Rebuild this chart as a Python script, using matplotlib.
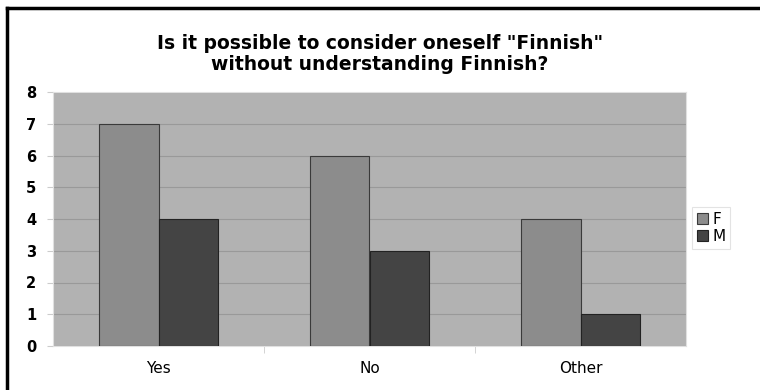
import matplotlib.pyplot as plt
import numpy as np
from matplotlib.lines import Line2D

categories = ["Yes", "No", "Other"]
female = [7, 6, 4]
male = [4, 3, 1]
series_names = ["F", "M"]

# the source picture is stretched sideways, DejaVu is wider than Arial
plt.rcParams['font.family'] = ['DejaVu Sans']

fig = plt.figure(figsize=(7.6, 3.9), dpi=100)
ax = fig.add_axes([53 / 760, 44 / 390, 633 / 760, 254 / 390])
ax.set_facecolor("#b2b2b2")

x = np.arange(len(categories))
w = 0.28
ax.bar(x - w / 2, female, w, color="#8c8c8c", edgecolor="#3a3a3a", linewidth=0.8,
       label=series_names[0], zorder=3)
ax.bar(x + w / 2, male, w, color="#444444", edgecolor="#222222", linewidth=0.8,
       label=series_names[1], zorder=3)

ax.set_xlim(-0.5, len(categories) - 0.5)
ax.set_ylim(0, 8)
ax.set_yticks(range(0, 9))
ax.yaxis.grid(True, color="#999999", linewidth=0.8, zorder=1)
ax.set_xticks(x)
ax.set_xticklabels(categories, fontsize=11)
ax.tick_params(axis="x", length=0, pad=11)
ax.set_xticks(np.arange(0.5, len(categories) - 0.5), minor=True)
ax.tick_params(axis="x", which="minor", length=5, color="#cccccc")
ax.tick_params(axis="y", length=4, color="#cccccc", pad=8)
for lab in ax.get_yticklabels():
    lab.set_fontweight("bold")
    lab.set_fontsize(10.5)
for side in ["top", "right", "left", "bottom"]:
    ax.spines[side].set_color("#e0e0e0")

fig.text(0.5, 0.862, 'Is it possible to consider oneself "Finnish"\nwithout understanding Finnish?',
         ha="center", va="center", fontsize=13.5, fontweight="bold", linespacing=1.12)

leg = fig.legend(loc="center left", bbox_to_anchor=(692 / 760, 1 - 228 / 390),
                 frameon=True, fancybox=False, fontsize=11, handlelength=0.75,
                 handleheight=0.75, handletextpad=0.3, borderpad=0.3, labelspacing=0.15,
                 borderaxespad=0)
leg.get_frame().set_edgecolor("#dddddd")
leg.get_frame().set_linewidth(0.8)

# outer chart border (left and top)
fig.add_artist(Line2D([7 / 760, 7 / 760], [0, 1 - 8 / 390], color="black", linewidth=2.5))
fig.add_artist(Line2D([7 / 760, 1], [1 - 8 / 390, 1 - 8 / 390], color="black", linewidth=2.5))

fig.savefig("out.png", dpi=100)
